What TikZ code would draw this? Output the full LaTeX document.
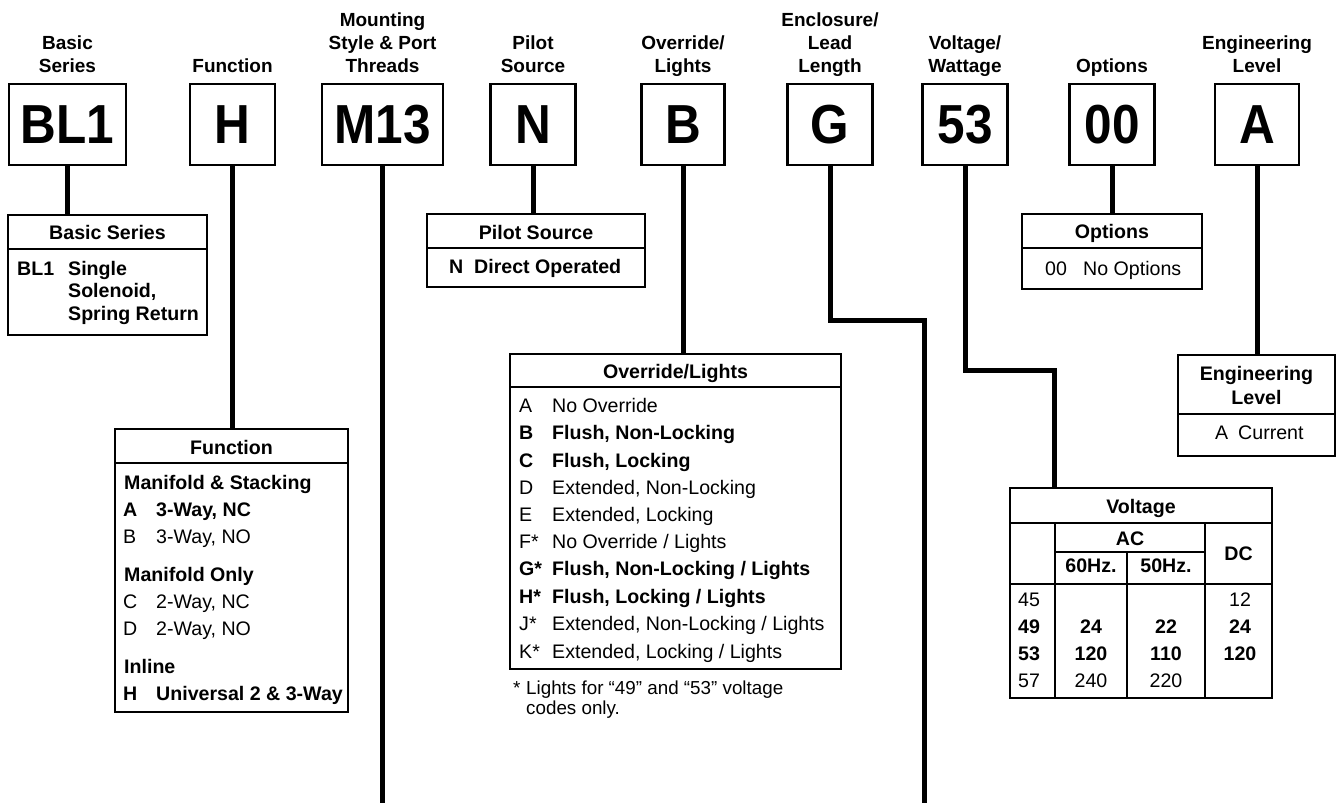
\documentclass[tikz,border=0pt]{standalone}
\usepackage{fontspec}
\setmainfont{Liberation Sans}
\newfontfamily\codefont{Liberation Sans}[FakeStretch=0.9]
\begin{document}
\begin{tikzpicture}[x=1pt,y=-1pt,
  codebox/.style={draw,line width=2.6pt,minimum height=81pt,inner sep=0pt,font=\codefont\bfseries\fontsize{55}{55}\selectfont},
  lbl/.style={align=center,anchor=south,inner sep=0pt,font=\bfseries\fontsize{19}{23}\selectfont},
  frame/.style={draw,line width=2.2pt,inner sep=0pt},
  conn/.style={line width=5pt,line cap=butt,line join=miter},
  tx/.style={anchor=base west,inner sep=0pt,font=\fontsize{19.6}{22}\selectfont},
  tb/.style={anchor=base west,inner sep=0pt,font=\bfseries\fontsize{19.6}{22}\selectfont},
  hd/.style={anchor=base,inner sep=0pt,font=\bfseries\fontsize{19.6}{22}\selectfont},
  tc/.style={anchor=base,inner sep=0pt,font=\fontsize{19.6}{22}\selectfont},
  fnt/.style={anchor=base west,inner sep=0pt,font=\fontsize{18.8}{20}\selectfont},
  grid/.style={line width=2pt},
]
\useasboundingbox (0,0) rectangle (1344,803);

% code boxes
\node[codebox,minimum width=117pt] (cBL) at (67.5,124.5) {BL1};
\node[codebox,minimum width=85pt] (cH) at (232.5,124.5) {H};
\node[codebox,minimum width=121pt] (cM) at (382.5,124.5) {M13};
\node[codebox,minimum width=85pt] (cN) at (533,124.5) {N};
\node[codebox,minimum width=83pt] (cB) at (683,124.5) {B};
\node[codebox,minimum width=85pt] (cG) at (830,124.5) {G};
\node[codebox,minimum width=85pt] (cV) at (965,124.5) {53};
\node[codebox,minimum width=85pt] (cO) at (1112,124.5) {00};
\node[codebox,minimum width=84pt] (cA) at (1257,124.5) {A};

% labels
\node[lbl] (lBL) at (67.5,76.8) {Basic\\Series\vphantom{g}};
\node[lbl] (lH) at (232.5,76.8) {Function\vphantom{g}};
\node[lbl] (lM) at (382.5,76.8) {Mounting\\Style \& Port\\Threads\vphantom{g}};
\node[lbl] (lN) at (533,76.8) {Pilot\\Source\vphantom{g}};
\node[lbl] (lB) at (683,76.8) {Override/\\Lights};
\node[lbl] (lG) at (830,76.8) {Enclosure/\\Lead\\Length};
\node[lbl] (lV) at (965,76.8) {Voltage/\\Wattage};
\node[lbl] (lO) at (1112,76.8) {Options};
\node[lbl] (lA) at (1257,76.8) {Engineering\\Level\vphantom{g}};

% table frames
\node[frame,minimum width=199pt,minimum height=34pt] (bsh) at (107.5,232) {};
\node[frame,minimum width=199pt,minimum height=86pt] (bsb) at (107.5,292) {};
\node[frame,minimum width=233pt,minimum height=34pt] (fnh) at (231.5,446) {};
\node[frame,minimum width=233pt,minimum height=249pt] (fnb) at (231.5,587.5) {};
\node[frame,minimum width=218pt,minimum height=34pt] (psh) at (536,231) {};
\node[frame,minimum width=218pt,minimum height=39pt] (psb) at (536,267.5) {};
\node[frame,minimum width=331pt,minimum height=33pt] (olh) at (675.5,370.5) {};
\node[frame,minimum width=331pt,minimum height=282pt] (olb) at (675.5,528) {};
\node[frame,minimum width=180pt,minimum height=34pt] (oph) at (1112,231) {};
\node[frame,minimum width=180pt,minimum height=41pt] (opb) at (1112,268.5) {};
\node[frame,minimum width=157pt,minimum height=59pt] (elh) at (1256.5,384.5) {};
\node[frame,minimum width=157pt,minimum height=42pt] (elb) at (1256.5,435) {};
\node[frame,minimum width=262pt,minimum height=35pt] (vth) at (1141,505.5) {};
\node[frame,minimum width=262pt,minimum height=175pt] (vtb) at (1141,610.5) {};

% connectors
\draw[conn] (cBL.south) -- (cBL.south |- bsh.north);
\draw[conn] (cH.south) -- (cH.south |- fnh.north);
\coordinate (mEnd) at (382.5,803);
\draw[conn] (cM.south) -- (mEnd);
\draw[conn] (cN.south) -- (cN.south |- psh.north);
\draw[conn] (cB.south) -- (cB.south |- olh.north);
\coordinate (gJ) at (924,320);
\coordinate (gEnd) at (924,803);
\draw[conn] (cG.south) |- (gJ) -- (gEnd);
\coordinate (vJ) at (1054,370);
\draw[conn] (cV.south) |- (vJ) -- (vJ |- vth.north);
\draw[conn] (cO.south) -- (cO.south |- oph.north);
\draw[conn] (cA.south) -- (cA.south |- elh.north);

% Basic Series
\node[hd] (bs0) at (107.5,239) {Basic Series};
\node[tb] (bs1) at (17,275) {BL1};
\node[tb] (bs2) at (68,275) {Single};
\node[tb] (bs3) at (68,297) {Solenoid,};
\node[tb] (bs4) at (68,320) {Spring Return};

% Function
\node[hd] (fn0) at (231.5,454) {Function};
\node[tb] (fn1) at (124,489) {Manifold \& Stacking};
\node[tb] (fn2) at (123,516) {A};
\node[tb] (fn3) at (156,516) {3-Way, NC};
\node[tx] (fn4) at (123,543) {B};
\node[tx] (fn5) at (156,543) {3-Way, NO};
\node[tb] (fn6) at (124,581) {Manifold Only};
\node[tx] (fn7) at (123,608) {C};
\node[tx] (fn8) at (156,608) {2-Way, NC};
\node[tx] (fn9) at (123,635) {D};
\node[tx] (fn10) at (156,635) {2-Way, NO};
\node[tb] (fn11) at (124,673) {Inline};
\node[tb] (fn12) at (123,700) {H};
\node[tb] (fn13) at (156,700) {Universal 2 \& 3-Way};

% Pilot Source
\node[hd] (ps0) at (536,239) {Pilot Source};
\node[tb] (ps1) at (449,273) {N};
\node[tb] (ps2) at (474,273) {Direct Operated};

% Override/Lights
\node[hd] (ol0) at (675.5,378) {Override/Lights};
\node[tx] (olA) at (519,412) {A};   \node[tx] (olAt) at (552,412) {No Override};
\node[tb] (olB) at (519,439) {B};   \node[tb] (olBt) at (552,439) {Flush, Non-Locking};
\node[tb] (olC) at (519,467) {C};   \node[tb] (olCt) at (552,467) {Flush, Locking};
\node[tx] (olD) at (519,494) {D};   \node[tx] (olDt) at (552,494) {Extended, Non-Locking};
\node[tx] (olE) at (519,521) {E};   \node[tx] (olEt) at (552,521) {Extended, Locking};
\node[tx] (olF) at (519,548) {F*};  \node[tx] (olFt) at (552,548) {No Override / Lights};
\node[tb] (olG) at (519,575) {G*};  \node[tb] (olGt) at (552,575) {Flush, Non-Locking / Lights};
\node[tb] (olH) at (519,603) {H*};  \node[tb] (olHt) at (552,603) {Flush, Locking / Lights};
\node[tx] (olJ) at (519,630) {J*};  \node[tx] (olJt) at (552,630) {Extended, Non-Locking / Lights};
\node[tx] (olK) at (519,658) {K*};  \node[tx] (olKt) at (552,658) {Extended, Locking / Lights};
\node[fnt] (f1) at (513,694.5) {*};
\node[fnt] (f2) at (526,694.5) {Lights for “49” and “53” voltage};
\node[fnt] (f3) at (526,714.5) {codes only.};

% Options
\node[hd] (op0) at (1112,238) {Options};
\node[tx] (op1) at (1045,275) {00};
\node[tx] (op2) at (1083,275) {No Options};

% Engineering Level
\node[hd] (el0) at (1256.5,380) {Engineering};
\node[hd] (el1) at (1256.5,404) {Level};
\node[tx] (el2) at (1215,439) {A};
\node[tx] (el3) at (1238,439) {Current};

% Voltage
\draw[grid] (1010,584) -- (1272,584);
\draw[grid] (1055,523) -- (1055,698);
\draw[grid] (1205,523) -- (1205,698);
\draw[grid] (1055,552) -- (1205,552);
\draw[grid] (1127,552) -- (1127,698);
\node[hd] (vt0) at (1141,513) {Voltage};
\node[hd] (vac) at (1130,545) {AC};
\node[hd] (v60) at (1091,572) {60Hz.};
\node[hd] (v50) at (1166,572) {50Hz.};
\node[hd] (vdc) at (1238.5,560) {DC};
\node[tx] (r45) at (1018,606) {45};
\node[tc] (r45d) at (1240,606) {12};
\node[tb] (r49) at (1018,633) {49};
\node[hd] (r49a) at (1091,633) {24};
\node[hd] (r49b) at (1166,633) {22};
\node[hd] (r49d) at (1240,633) {24};
\node[tb] (r53) at (1018,660) {53};
\node[hd] (r53a) at (1091,660) {120};
\node[hd] (r53b) at (1166,660) {110};
\node[hd] (r53d) at (1240,660) {120};
\node[tx] (r57) at (1018,687) {57};
\node[tc] (r57a) at (1091,687) {240};
\node[tc] (r57b) at (1166,687) {220};
\end{tikzpicture}
\end{document}
